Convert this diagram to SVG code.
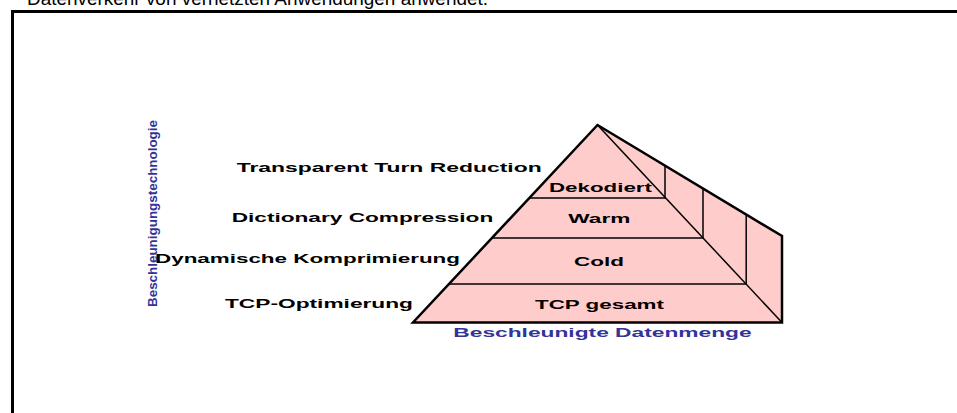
<svg xmlns="http://www.w3.org/2000/svg" width="957" height="413" viewBox="0 0 957 413">
<style>
.lbl{font-family:"Liberation Sans",Arial,sans-serif;font-weight:bold;font-size:13px;fill:#000}
.blue{fill:#333399}
.face{fill:#FFCCCC;stroke:#000;stroke-width:2.5;stroke-linejoin:miter}
.inner{fill:none;stroke:#000;stroke-width:1.5}
</style>
<rect width="957" height="413" fill="#fff"/>
<text x="27" y="5" font-family="'Liberation Sans',Arial,sans-serif" font-size="19" fill="#000" textLength="461" lengthAdjust="spacingAndGlyphs">Datenverkehr von vernetzten Anwendungen anwendet.</text>
<rect x="12.5" y="11.5" width="1000" height="500" fill="none" stroke="#000" stroke-width="3"/>
<g id="pyramid">
  <polygon class="face" points="597.5,125 782,236 782,322.5 413,322.5"/>
  <line class="inner" x1="597.5" y1="125" x2="782" y2="322.5"/>
  <line class="inner" x1="529" y1="198" x2="666" y2="198"/>
  <line class="inner" x1="491.7" y1="238" x2="703.3" y2="238"/>
  <line class="inner" x1="448.6" y1="284" x2="746.4" y2="284"/>
  <line class="inner" x1="665" y1="165.6" x2="665" y2="198"/>
  <line class="inner" x1="703" y1="188.7" x2="703" y2="238"/>
  <line class="inner" x1="746.2" y1="214.6" x2="746.2" y2="284"/>
</g>
<g id="layer-labels">
  <text class="lbl" x="549" y="192.3" textLength="103" lengthAdjust="spacingAndGlyphs">Dekodiert</text>
  <text class="lbl" x="568.3" y="223.3" textLength="62" lengthAdjust="spacingAndGlyphs">Warm</text>
  <text class="lbl" x="574" y="266" textLength="50" lengthAdjust="spacingAndGlyphs">Cold</text>
  <text class="lbl" x="535" y="309" textLength="129" lengthAdjust="spacingAndGlyphs">TCP gesamt</text>
</g>
<g id="tech-labels">
  <text class="lbl" x="236.7" y="172.3" textLength="305" lengthAdjust="spacingAndGlyphs">Transparent Turn Reduction</text>
  <text class="lbl" x="231.7" y="221.7" textLength="261.6" lengthAdjust="spacingAndGlyphs">Dictionary Compression</text>
  <text class="lbl" x="155" y="262.7" textLength="305" lengthAdjust="spacingAndGlyphs">Dynamische Komprimierung</text>
  <text class="lbl" x="225" y="307.7" textLength="188" lengthAdjust="spacingAndGlyphs">TCP-Optimierung</text>
</g>
<g id="axes">
  <text class="lbl blue" x="453.3" y="337.3" textLength="298.4" lengthAdjust="spacingAndGlyphs">Beschleunigte Datenmenge</text>
  <text class="lbl blue" transform="translate(156.5,307) rotate(-90)" x="0" y="0" font-size="15" textLength="187" lengthAdjust="spacingAndGlyphs">Beschleunigungstechnologie</text>
</g>
</svg>
